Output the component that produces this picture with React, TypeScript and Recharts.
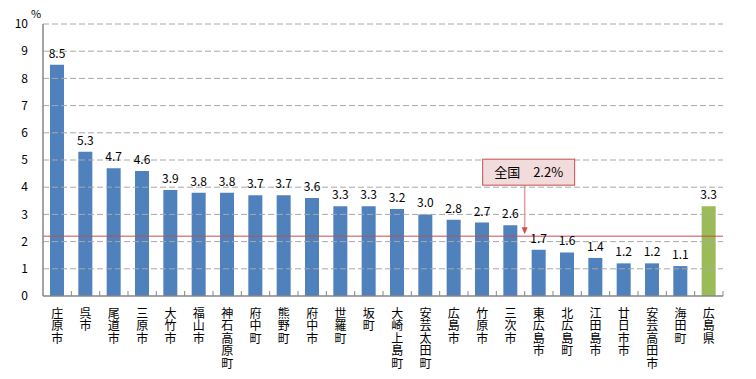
import { BarChart, Bar, XAxis, YAxis, ReferenceLine, LabelList, Cell } from "recharts";

const areas = [
  "庄原市", "呉市", "尾道市", "三原市", "大竹市", "福山市", "神石高原町", "府中町",
  "熊野町", "府中市", "世羅町", "坂町", "大崎上島町", "安芸太田町", "広島市", "竹原市",
  "三次市", "東広島市", "北広島町", "江田島市", "廿日市市", "安芸高田市", "海田町", "広島県",
];
const rates = [
  8.5, 5.3, 4.7, 4.6, 3.9, 3.8, 3.8, 3.7, 3.7, 3.6, 3.3, 3.3,
  3.2, 3.0, 2.8, 2.7, 2.6, 1.7, 1.6, 1.4, 1.2, 1.2, 1.1, 3.3,
];
const yTicks = [0, 1, 2, 3, 4, 5, 6, 7, 8, 9, 10];
const nationalRate = 2.2;
const nationalLabel = "全国　2.2%";

const data = areas.map((name, i) => ({ name, rate: rates[i] }));

const FONT = "'Noto Sans CJK JP', sans-serif";
const BAND = 680 / areas.length;

const VerticalTick = (props: any) => {
  const { x, y, payload } = props;
  return (
    <g>
      <line x1={x + BAND / 2} x2={x + BAND / 2} y1={y - 5} y2={y} stroke="#868686" />
      <text
        x={x}
        y={y + 11}
        fontSize={12}
        fontFamily={FONT}
        fill="#000"
        letterSpacing={0.6}
        style={{ writingMode: "vertical-rl", textOrientation: "upright" } as any}
      >
        {payload.value}
      </text>
    </g>
  );
};

const Callout = (props: any) => {
  const vb = props.viewBox;
  const ax = vb.x + (17 * vb.width) / 24;
  const ly = vb.y;
  return (
    <g>
      <line x1={ax} x2={ax} y1={ly - 51} y2={ly - 8} stroke="#E39C9C" strokeWidth={1.5} />
      <path d={`M${ax - 3},${ly - 9} L${ax + 3},${ly - 9} L${ax},${ly - 2} Z`} fill="#D05050" />
      <rect x={ax - 42} y={ly - 77} width={92} height={26} fill="#F2DCDB" stroke="#C0504D" strokeWidth={1} />
      <text x={ax + 4} y={ly - 59} textAnchor="middle" fontSize={13} fontFamily={FONT} fill="#000">
        {nationalLabel}
      </text>
    </g>
  );
};

export default function App() {
  return (
    <div style={{ position: "absolute", left: 0, top: 0, width: 756, height: 379, background: "#fff" }}>
      <div style={{ position: "absolute", left: 31, top: 5, fontSize: 11, fontFamily: FONT }}>%</div>
      <BarChart
        width={756}
        height={379}
        data={data}
        margin={{ top: 24, right: 33, left: 0, bottom: 0 }}
        barCategoryGap={0}
      >
        <XAxis
          dataKey="name"
          interval={0}
          tickLine={false}
          tickSize={0}
          tickMargin={0}
          axisLine={{ stroke: "#868686", strokeWidth: 1.5 }}
          tick={<VerticalTick />}
          height={83}
        />
        <YAxis
          width={43}
          domain={[0, 10]}
          ticks={yTicks}
          interval={0}
          tickLine={false}
          tickMargin={9}
          axisLine={{ stroke: "#868686", strokeWidth: 1.5 }}
          tick={{ fontSize: 12, fill: "#000", fontFamily: FONT }}
        />
        {yTicks.slice(1).map((t) => (
          <ReferenceLine key={`grid-${t}`} y={t} stroke="#A8A8A8" strokeDasharray="6 3" />
        ))}
        <Bar dataKey="rate" barSize={14} isAnimationActive={false}>
          {data.map((d, i) => (
            <Cell key={d.name} fill={i === data.length - 1 ? "#9BBB59" : "#4F81BD"} />
          ))}
          <LabelList
            dataKey="rate"
            position="top"
            offset={7}
            formatter={(v: any) => Number(v).toFixed(1)}
            style={{ fontSize: 12, fill: "#000", fontFamily: FONT }}
          />
        </Bar>
        <ReferenceLine y={nationalRate} stroke="#C0504D" strokeWidth={1} label={<Callout />} />
      </BarChart>
    </div>
  );
}
